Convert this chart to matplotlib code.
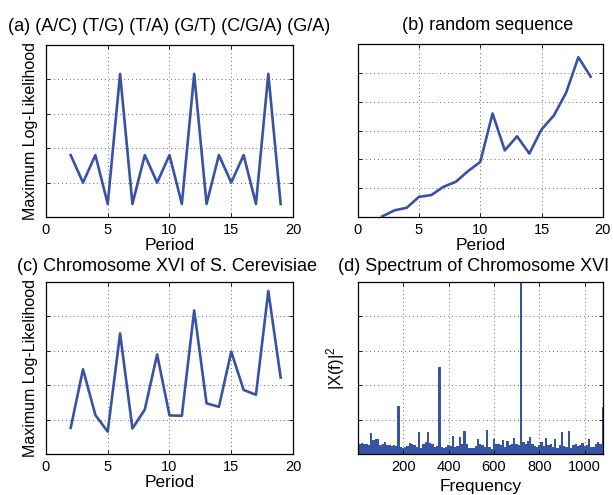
import numpy as np
import matplotlib
matplotlib.use('Agg')
import matplotlib.pyplot as plt

plt.rcParams['font.family'] = ['Liberation Sans', 'DejaVu Sans']
plt.rcParams['mathtext.default'] = 'regular'

# period axis (panels a, b, c)
period = [2, 3, 4, 5, 6, 7, 8, 9, 10, 11, 12, 13, 14, 15, 16, 17, 18, 19]

# (a) synthetic repeat sequence
ll_repeat = [1.80, 1.00, 1.80, 0.38, 4.16, 0.38, 1.80, 1.00, 1.80,
             0.38, 4.16, 0.38, 1.80, 1.00, 1.80, 0.38, 4.16, 0.38]
# (b) random sequence
ll_random = [0.02, 0.23, 0.32, 0.70, 0.76, 1.05, 1.22, 1.59, 1.91,
             3.59, 2.31, 2.80, 2.20, 3.04, 3.52, 4.31, 5.54, 4.87]
# (c) chromosome XVI
ll_chrom = [0.76, 2.46, 1.13, 0.65, 3.50, 0.74, 1.29, 2.89, 1.12,
            1.11, 4.17, 1.47, 1.37, 2.97, 1.86, 1.72, 4.73, 2.22]

# (d) spectrum, sampled every 10 frequency units
freq = np.arange(0, 1090, 10)
power = [0.72, 0.30, 0.32, 0.28, 0.30, 0.25, 0.60, 0.40, 0.45, 0.45,
         0.25, 0.28, 0.35, 0.25, 0.26, 0.24, 0.26, 0.22, 1.40, 0.20,
         0.18, 0.20, 0.22, 0.33, 0.28, 0.26, 0.20, 0.63, 0.18, 0.30,
         0.36, 0.63, 0.31, 0.28, 0.20, 0.22, 2.52, 0.20, 0.18, 0.20,
         0.25, 0.24, 0.52, 0.20, 0.22, 0.49, 0.30, 0.67, 0.30, 0.18,
         0.18, 0.18, 0.22, 0.43, 0.30, 0.25, 0.20, 0.71, 0.20, 0.16,
         0.43, 0.30, 0.28, 0.25, 0.41, 0.20, 0.38, 0.25, 0.30, 0.48,
         0.28, 0.25, 5.20, 0.36, 0.30, 0.38, 0.50, 0.30, 0.22, 0.20,
         0.26, 0.36, 0.22, 0.48, 0.26, 0.28, 0.20, 0.43, 0.18, 0.25,
         0.65, 0.22, 0.20, 0.67, 0.18, 0.25, 0.28, 0.22, 0.25, 0.31,
         0.22, 0.25, 0.43, 0.21, 0.20, 0.28, 0.36, 0.30, 1.38]

blue = '#3953a4'
tfs = 13
lfs = 12.5
kfs = 10.5

fig = plt.figure(figsize=(6.13, 4.95), dpi=100)
ax_a = fig.add_axes([0.075, 0.5616, 0.403, 0.3475])
ax_b = fig.add_axes([0.5835, 0.5616, 0.400, 0.3495])
ax_c = fig.add_axes([0.075, 0.0828, 0.403, 0.348])
ax_d = fig.add_axes([0.5835, 0.0828, 0.400, 0.3475])


def style(ax):
    ax.grid(True, linestyle=(0, (1, 3)), color='#666666', linewidth=0.7)
    ax.tick_params(direction='in', top=True, right=True, labelsize=kfs,
                   length=3, width=0.6, labelleft=False, pad=4)
    for s in ax.spines.values():
        s.set_linewidth(0.9)


for ax, y, ymax in [(ax_a, ll_repeat, 5), (ax_b, ll_random, 6), (ax_c, ll_chrom, 5)]:
    ax.plot(period, y, color=blue, linewidth=1.9)
    ax.set_xlim(0, 20)
    ax.set_ylim(0, ymax)
    ax.set_xticks([0, 5, 10, 15, 20])
    ax.set_yticks(range(1, ymax))
    style(ax)
    ax.set_xlabel('Period', fontsize=lfs, labelpad=1)

ax_a.set_ylabel('Maximum Log-Likelihood', fontsize=11.5, labelpad=6)
ax_c.set_ylabel('Maximum Log-Likelihood', fontsize=11.5, labelpad=6)

ax_d.fill_between(freq, power, 0, step='mid', color=blue, linewidth=0)
ax_d.set_xlim(0, 1080)
ax_d.set_ylim(0, 5)
ax_d.set_xticks([200, 400, 600, 800, 1000])
ax_d.set_yticks([1, 2, 3, 4])
style(ax_d)
ax_d.set_xlabel('Frequency', fontsize=lfs, labelpad=4)
ax_d.set_ylabel('|X(f)|$^2$', fontsize=12, labelpad=8)

ax_a.set_title('(a) (A/C) (T/G) (T/A) (G/T) (C/G/A) (G/A)', fontsize=tfs, pad=10)
ax_b.set_title('(b) random sequence', fontsize=tfs, pad=10, x=0.53)
ax_c.set_title('(c) Chromosome XVI of S. Cerevisiae', fontsize=tfs, pad=8, x=0.49)
ax_d.set_title('(d) Spectrum of Chromosome XVI', fontsize=tfs, pad=8, x=0.473)

fig.savefig('out.png', dpi=100)
